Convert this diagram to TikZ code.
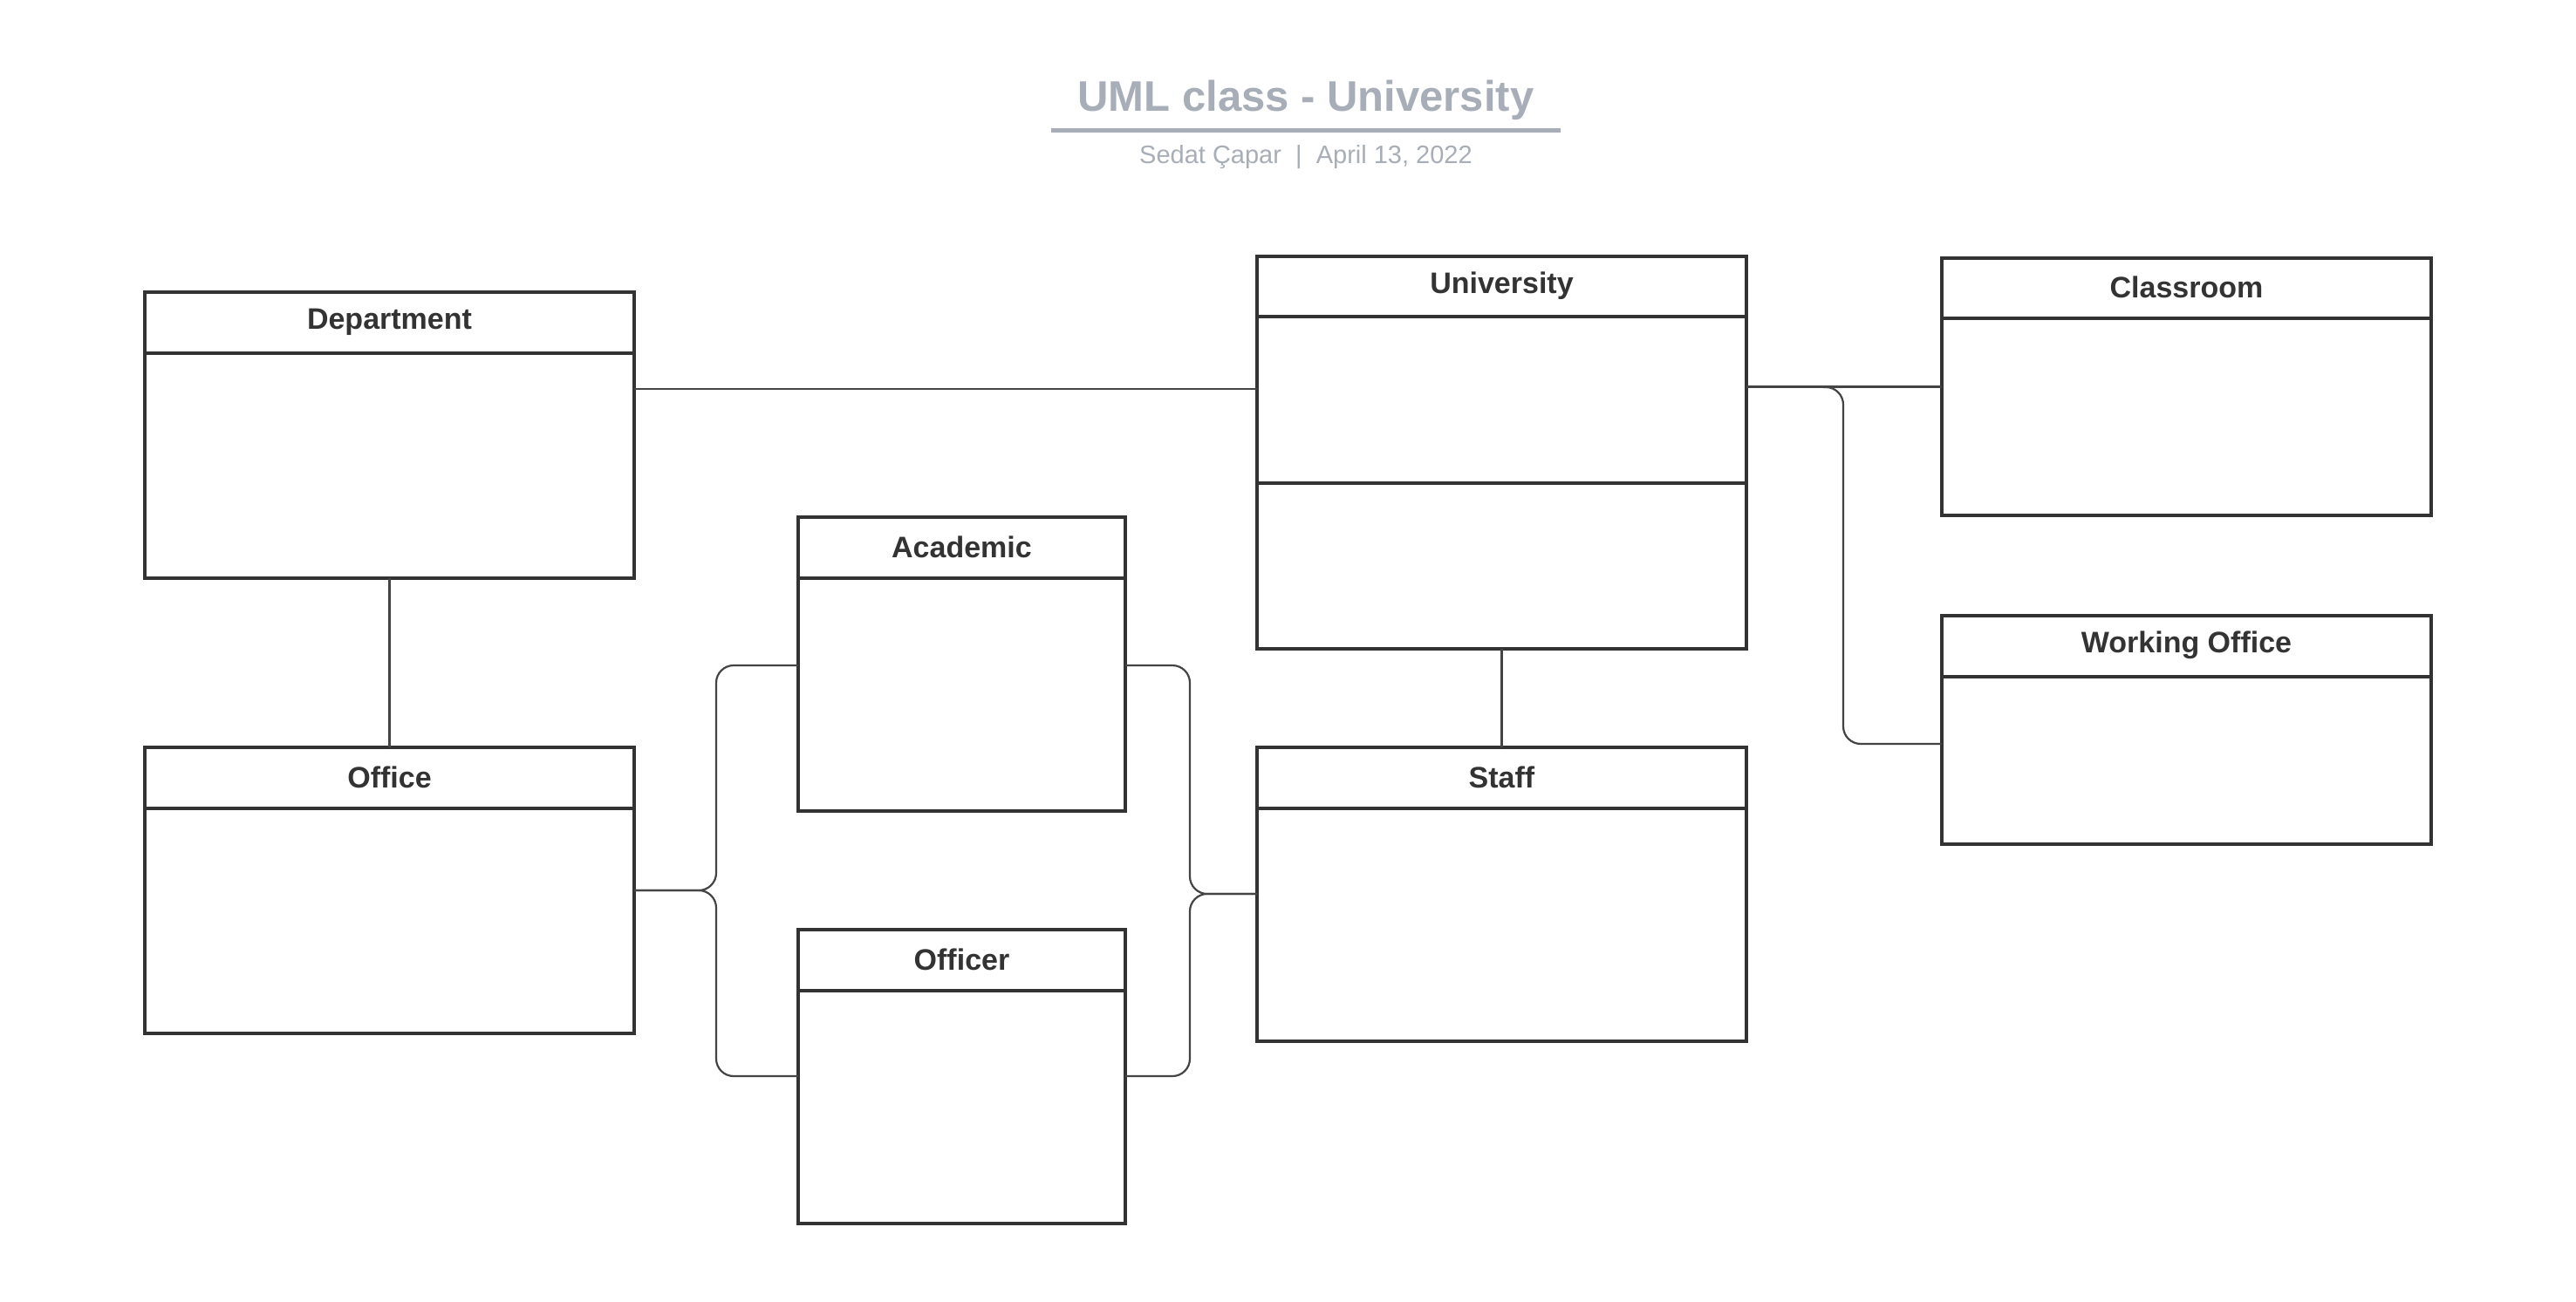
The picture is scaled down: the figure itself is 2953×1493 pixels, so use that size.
\documentclass[tikz,border=0pt]{standalone}
\usepackage{fontspec}
\setmainfont{Liberation Sans}
\definecolor{boxc}{HTML}{333333}
\definecolor{linec}{HTML}{444444}
\definecolor{titc}{HTML}{A8AEB7}
\tikzset{
  classbox/.style={draw=boxc, line width=4pt, rectangle, inner sep=0pt, outer sep=0pt, anchor=north west},
  classtitle/.style={text=boxc, font=\fontsize{34}{40}\selectfont\bfseries, anchor=center, inner sep=0pt},
  divider/.style={draw=boxc, line width=4pt},
  conn/.style={draw=linec, line width=2.2pt},
  rconn/.style={conn, rounded corners=20pt}
}
\newcommand\umlclassbox[7]{%
  % #1 name, #2 x1, #3 y1, #4 x2, #5 y2, #6 header bottom y, #7 title
  \node[classbox, minimum width={#4-#2}, minimum height={#5-#3}] (#1) at (#2,#3) {};
  \node[classtitle] (#1-t) at ({(#2+#4)/2},{(#3+#6)/2-1}) {#7};
  \draw[divider] (#1.west |- 0,#6) -- (#1.east |- 0,#6);
}
\begin{document}
\begin{tikzpicture}[x=1pt,y=-1pt]
\useasboundingbox[fill=white] (0,0) rectangle (2953,1493);
% title
\node[text=titc, font=\fontsize{49}{56}\selectfont\bfseries, inner sep=0pt] (title) at (1497,115) {UML class - University};
\coordinate (ul1) at (1205,150);
\coordinate (ul2) at (1789,150);
\draw[titc, line width=5pt] (ul1) -- (ul2);
\node[text=titc, font=\fontsize{29}{34}\selectfont, inner sep=0pt] (sub) at (1497,180) {Sedat Çapar\ \ |\ \ April 13, 2022};
% classes
\umlclassbox{dept}{166}{335}{727}{663}{405}{Department}
\umlclassbox{office}{166}{857}{727}{1185}{927}{Office}
\umlclassbox{acad}{915}{593}{1290}{930}{663}{Academic}
\umlclassbox{offr}{915}{1066}{1290}{1403}{1136}{Officer}
\umlclassbox{univ}{1441}{294}{2002}{744}{363}{University}
\draw[divider] (univ.west |- 0,554) -- (univ.east |- 0,554);
\umlclassbox{staff}{1441}{857}{2002}{1194}{927}{Staff}
\umlclassbox{class}{2226}{296}{2787}{591}{365}{Classroom}
\umlclassbox{work}{2226}{706}{2787}{968}{776}{Working Office}
% connectors
\draw[conn] (dept.east |- 0,446) -- (univ.west |- 0,446);
\draw[conn] (dept.south) -- (office.north);
\draw[conn] (univ.south) -- (staff.north);
\draw[conn] (univ.east |- class.west) -- (class.west);
\draw[rconn] (univ.east |- class.west) -- (2113,444) -- (2113,853) -- (work.west |- 0,853);
\draw[rconn] (office.east) -- (821,1021) -- (821,763) -- (acad.west |- 0,763);
\draw[rconn] (office.east) -- (821,1021) -- (821,1234) -- (offr.west |- 0,1234);
\draw[rconn] (acad.east |- 0,763) -- (1364,763) -- (1364,1025) -- (staff.west |- 0,1025);
\draw[rconn] (offr.east |- 0,1234) -- (1364,1234) -- (1364,1025) -- (staff.west |- 0,1025);
\end{tikzpicture}
\end{document}
